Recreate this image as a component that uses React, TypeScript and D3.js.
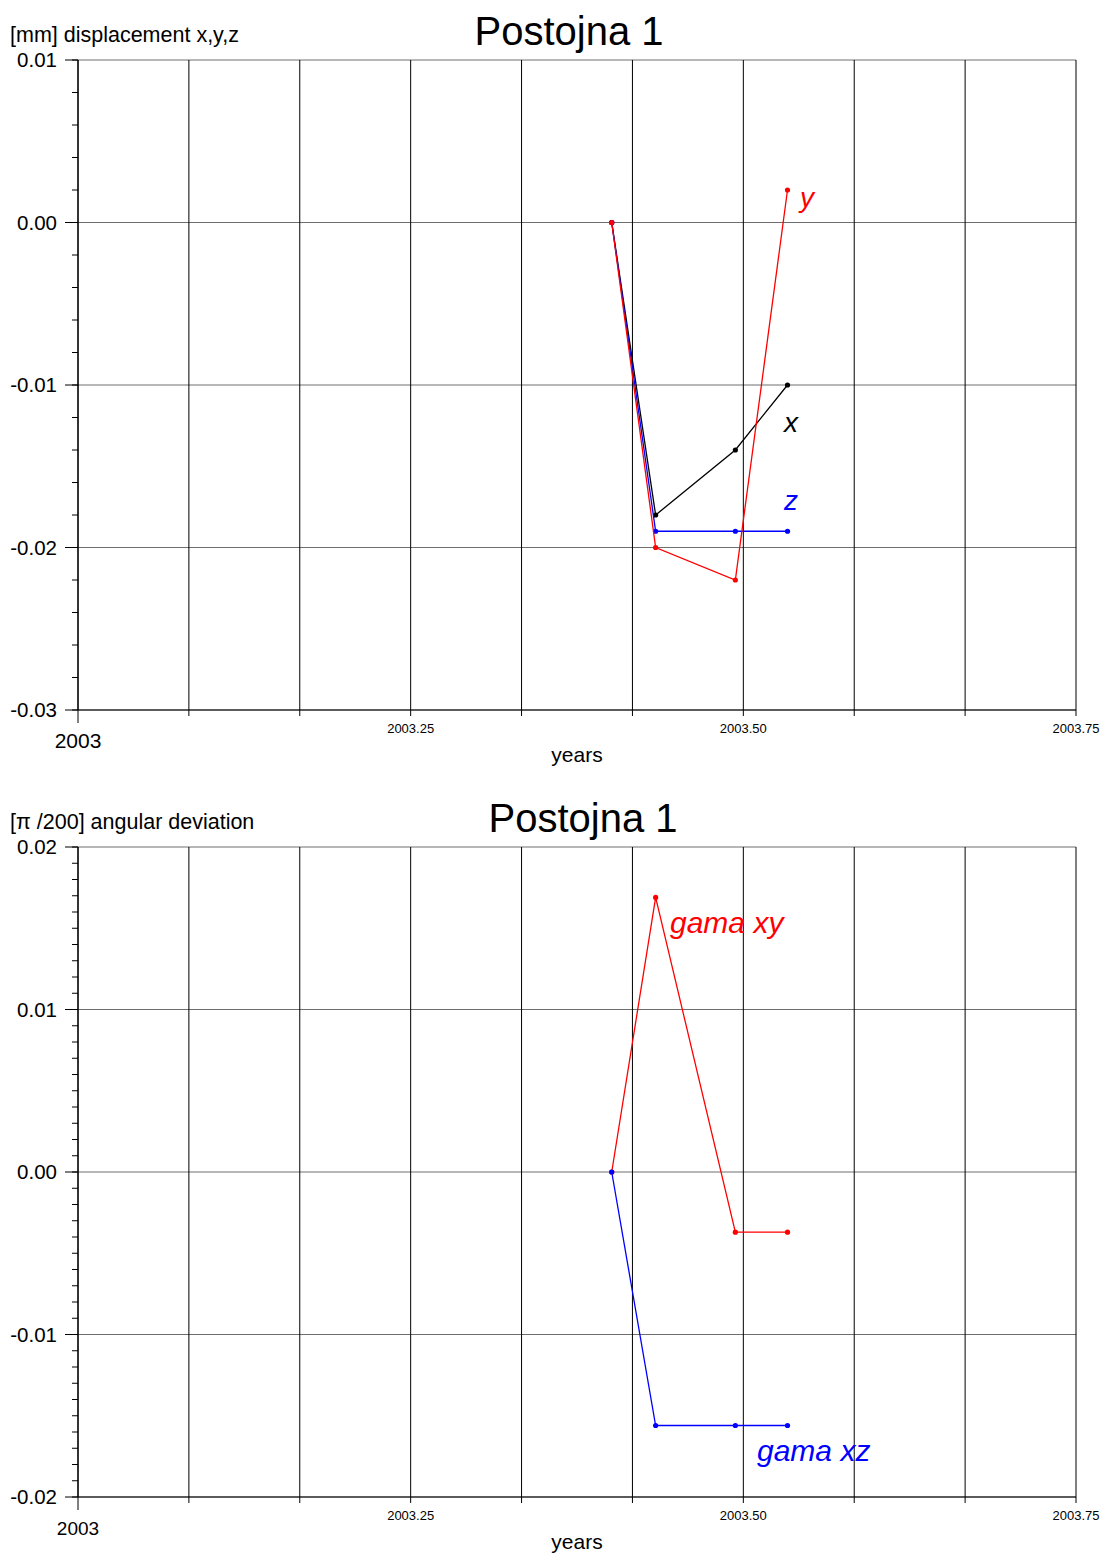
import { useEffect } from 'react';
import * as d3 from 'd3';

// measurement dates (decimal years)
const years = [2003.4011, 2003.4341, 2003.494, 2003.5332];

// displacement [mm]
const dispX = [0, -0.018, -0.014, -0.01];
const dispY = [0, -0.02, -0.022, 0.002];
const dispZ = [0, -0.019, -0.019, -0.019];

// angular deviation [pi/200]
const gamaXY = [0, 0.0169, -0.0037, -0.0037];
const gamaXZ = [0, -0.0156, -0.0156, -0.0156];

const xLabelTicks = [2003.25, 2003.5, 2003.75];

const FONT = '"Liberation Sans", Arial, sans-serif';
const W = 1106;
const H = 1555;

type Series = { name: string; values: number[]; color: string; lx: number; ly: number; size: number };

type PanelProps = {
  top: number;
  yDomain: [number, number];
  minorStep: number;
  yTitle: string;
  titleX: number;
  yearFont: number;
  series: Series[];
};

const fmt = (v: number) => d3.format('.2f')(v).replace('\u2212', '-');

function Panel({ top, yDomain, minorStep, yTitle, titleX, yearFont, series }: PanelProps) {
  const left = 78;
  const right = 1076;
  const bottom = top + 650;

  const x = d3.scaleLinear().domain([2003, 2003.75]).range([left, right]);
  const y = d3.scaleLinear().domain(yDomain).range([bottom, top]);

  const months = d3.range(0, 10).map(k => 2003 + k / 12);
  const major = y.ticks(4);
  const nMinor = Math.round((yDomain[1] - yDomain[0]) / minorStep);
  const minor = d3.range(0, nMinor + 1).map(k => yDomain[0] + k * minorStep);

  const line = d3
    .line<number>()
    .x((d, i) => x(years[i]))
    .y(d => y(d));

  return (
    <g>
      <text x={titleX} y={top - 15} textAnchor="middle" fontSize={40} fontFamily={FONT}>
        Postojna 1
      </text>
      <text x={10} y={top - 18} fontSize={21.5} fontFamily={FONT}>
        {yTitle}
      </text>

      {/* horizontal grid */}
      {major.map(t => (
        <line key={'h' + t} x1={left} x2={right} y1={y(t)} y2={y(t)} stroke="#6e6e6e" strokeWidth={1} />
      ))}
      {/* vertical month grid */}
      {months.map(m => (
        <line key={'v' + m} x1={x(m)} x2={x(m)} y1={top} y2={bottom} stroke="#000" strokeWidth={1} />
      ))}

      {/* axes */}
      <line x1={left} x2={right} y1={bottom} y2={bottom} stroke="#000" strokeWidth={1.2} />
      <line x1={left} x2={left} y1={top} y2={bottom} stroke="#000" strokeWidth={1.2} />

      {minor.map(t => (
        <line key={'mi' + t} x1={left - 6} x2={left} y1={y(t)} y2={y(t)} stroke="#000" strokeWidth={1} />
      ))}
      {major.map(t => (
        <g key={'ma' + t}>
          <line x1={left - 13} x2={left} y1={y(t)} y2={y(t)} stroke="#000" strokeWidth={1} />
          <text x={57} y={y(t)} dy="0.36em" textAnchor="end" fontSize={20.5} fontFamily={FONT}>
            {fmt(t)}
          </text>
        </g>
      ))}

      {months.map((m, i) => (
        <line key={'xt' + m} x1={x(m)} x2={x(m)} y1={bottom} y2={bottom + (i === 0 ? 13 : 6)} stroke="#000" strokeWidth={1} />
      ))}
      <text x={x(2003)} y={bottom + 38} textAnchor="middle" fontSize={yearFont} fontFamily={FONT}>
        2003
      </text>
      {xLabelTicks.map(t => (
        <text key={'xl' + t} x={x(t)} y={bottom + 23} textAnchor="middle" fontSize={13} fontFamily={FONT}>
          {t.toFixed(2)}
        </text>
      ))}
      <text x={577} y={bottom + 52} textAnchor="middle" fontSize={21} fontFamily={FONT}>
        years
      </text>

      {series.map(s => (
        <g key={s.name}>
          <path d={line(s.values) ?? ''} fill="none" stroke={s.color} strokeWidth={1.3} />
          {s.values.map((v, i) => (
            <circle key={i} cx={x(years[i])} cy={y(v)} r={2.6} fill={s.color} />
          ))}
          <text x={s.lx} y={s.ly} fill={s.color} fontSize={s.size} fontStyle="italic" fontFamily={FONT}>
            {s.name}
          </text>
        </g>
      ))}
    </g>
  );
}

export default function App() {
  useEffect(() => {
    document.body.style.margin = '0';
  }, []);

  return (
    <svg width={W} height={H} style={{ display: 'block', position: 'absolute', left: 0, top: 0, background: '#fff' }}>
      <rect width={W} height={H} fill="#fff" />
      <Panel
        top={60}
        yDomain={[-0.03, 0.01]}
        minorStep={0.002}
        yTitle="[mm] displacement x,y,z"
        titleX={569}
        yearFont={21}
        series={[
          { name: 'x', values: dispX, color: '#000', lx: 784, ly: 432, size: 28 },
          { name: 'z', values: dispZ, color: '#0000ff', lx: 784, ly: 510, size: 28 },
          { name: 'y', values: dispY, color: '#ff0000', lx: 800, ly: 207, size: 28 },
        ]}
      />
      <Panel
        top={847}
        yDomain={[-0.02, 0.02]}
        minorStep={0.001}
        yTitle="[π /200] angular deviation"
        titleX={583}
        yearFont={19}
        series={[
          { name: 'gama xy', values: gamaXY, color: '#ff0000', lx: 670, ly: 933, size: 30 },
          { name: 'gama xz', values: gamaXZ, color: '#0000ff', lx: 757, ly: 1461, size: 30 },
        ]}
      />
    </svg>
  );
}
